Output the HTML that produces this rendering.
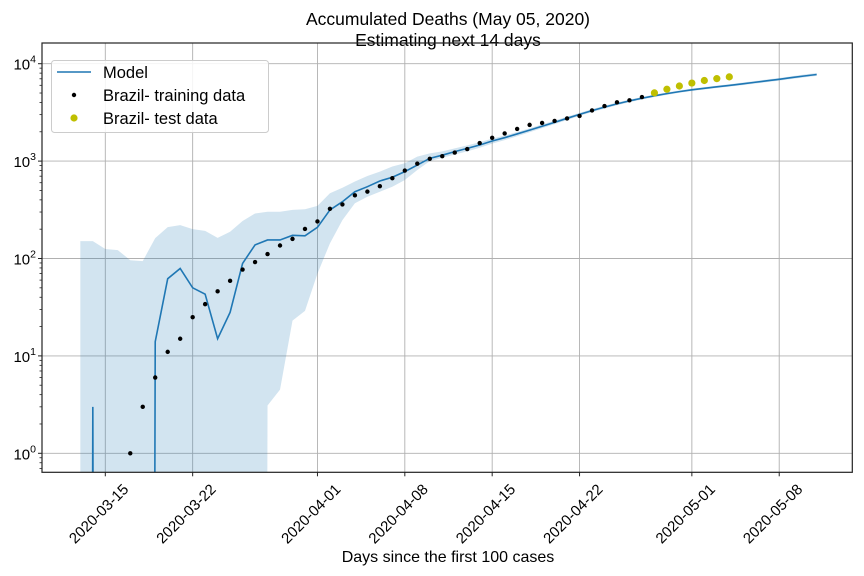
<!DOCTYPE html>
<html><head><meta charset="utf-8"><style>
html,body{margin:0;padding:0;background:#fff;overflow:hidden;}
svg{display:block;font-family:"Liberation Sans","DejaVu Sans",sans-serif;}
</style></head><body>
<svg id="chart" width="864" height="576" viewBox="0 0 864 576">
  <defs><clipPath id="plotclip"><rect x="42" y="43" width="810.3" height="429.3"/></clipPath></defs>
  <text x="448" y="25" text-anchor="middle" font-size="17.5">Accumulated Deaths (May 05, 2020)</text>
  <text x="448" y="46" text-anchor="middle" font-size="17.5">Estimating next 14 days</text>
  <g id="grid"></g>
  <g id="band" clip-path="url(#plotclip)"></g>
  <g id="model" clip-path="url(#plotclip)"></g>
  <g id="points" clip-path="url(#plotclip)"></g>
  <rect x="42" y="43" width="810.3" height="429.3" fill="none" stroke="#222" stroke-width="1.2"/>
  <g id="axes"></g>
  <text x="448" y="562" text-anchor="middle" font-size="16">Days since the first 100 cases</text>
  <g>
    <rect x="51.5" y="60.5" width="217" height="72" rx="3" fill="#fff" fill-opacity="0.85" stroke="#ccc"/>
    <line x1="57" y1="72" x2="91" y2="72" stroke="#1f77b4" stroke-width="1.6"/>
    <text x="103" y="78" font-size="16.5">Model</text>
    <circle cx="74" cy="95" r="2.2" fill="#000"/>
    <text x="103" y="101" font-size="16.5">Brazil- training data</text>
    <circle cx="74" cy="118" r="3.6" fill="#bfbf00"/>
    <text x="103" y="124" font-size="16.5">Brazil- test data</text>
  </g>
</svg>
<script>
// ---- data (day 0 = 2020-03-15) ----
const trainDays = [2,3,4,5,6,7,8,9,10,11,12,13,14,15,16,17,18,19,20,21,22,23,24,25,26,27,28,29,30,31,32,33,34,35,36,37,38,39,40,41,42,43];
const trainDeaths = [1,3,6,11,15,25,34,46,59,77,92,111,136,159,201,240,324,359,445,486,553,667,800,941,1056,1124,1223,1328,1532,1736,1924,2141,2354,2462,2587,2741,2906,3313,3670,4016,4205,4543];
const testDays = [44,45,46,47,48,49,50];
const testDeaths = [5017,5466,5901,6329,6724,7025,7321];
const modelDays = [-2,-1,0,1,2,3,4,5,6,7,8,9,10,11,12,13,14,15,16,17,18,19,20,21,22,23,24,25,26,27,28,29,30,31,32,33,34,35,36,37,38,39,40,41,42,43,44,45,46,47,48,49,50,51,52,53,54,55,56,57];
const modelMid = [0,3,0,0,0,0,14,62,79,50,43,15,28,89,138,155,155,173,171,209,315,383,485,546,625,682,780,910,1067,1150,1250,1350,1463,1608,1740,1900,2080,2280,2500,2750,3020,3300,3580,3870,4150,4420,4680,4930,5170,5390,5590,5790,5980,6200,6430,6670,6920,7200,7480,7750];
const bandUpper = [151,151,125,122,96,94,162,210,220,200,192,163,188,243,290,302,302,316,320,347,467,533,617,703,780,880,950,1110,1200,1260,1350,1450,1560,1700,1830,1990,2170,2380,2600,2860,3130,3420,3700,4000,4280,4550,4810,5070,5310,5540,5750,5960,6160,6390,6630,6880,7140,7440,7740,8020];
const bandLower = [0,0,0,0,0,0,0,0,0,0,0,0,0,0,0,3.1,4.5,23,29,70,143,248,369,431,485,546,640,810,1000,1080,1170,1260,1370,1510,1640,1800,1980,2180,2400,2640,2910,3180,3460,3740,4020,4290,4550,4790,5030,5240,5440,5630,5810,6010,6230,6470,6710,6970,7230,7490];
const xTickDays = [0,7,17,24,31,38,47,54];
const xTickLabels = ["2020-03-15","2020-03-22","2020-04-01","2020-04-08","2020-04-15","2020-04-22","2020-05-01","2020-05-08"];
const yTickExps = [0,1,2,3,4];

const NS="http://www.w3.org/2000/svg";
const X0=105.3, DX=12.48, Y0=453.3, DEC=97.4, LEFT=42, BOTTOM=472.3, RIGHT=852.3, TOP=43;
function xs(d){return X0+d*DX;}
function ys(v){return v<=0?5000:Y0-DEC*Math.log10(v);}
function mk(tag,attrs,parent){const e=document.createElementNS(NS,tag);for(const k in attrs)e.setAttribute(k,attrs[k]);parent.appendChild(e);return e;}

const grid=document.getElementById('grid'), axes=document.getElementById('axes');
xTickDays.forEach((d,i)=>{
  const x=xs(d);
  const g=mk('line',{x1:x,x2:x,y1:TOP,y2:BOTTOM,stroke:'#b0b0b0','stroke-width':0.9},grid);
  
  
  const t=mk('line',{x1:x,x2:x,y1:BOTTOM,y2:BOTTOM+4,stroke:'#222'},axes);
  
  
  const cx=x-3, cy=BOTTOM+45;
  const lbl=mk('text',{x:cx,y:cy,'font-size':15,'text-anchor':'middle',transform:`rotate(-45 ${cx} ${cy})`},axes);
  lbl.textContent=xTickLabels[i];
  
  
});
yTickExps.forEach(e=>{
  const y=ys(Math.pow(10,e));
  const g=mk('line',{x1:LEFT,x2:RIGHT,y1:y,y2:y,stroke:'#b0b0b0','stroke-width':0.9},grid);
  
  
  const t=mk('line',{x1:LEFT-4,x2:LEFT,y1:y,y2:y,stroke:'#222'},axes);
  
  
  const lbl=mk('text',{x:LEFT-6,y:y+6,'font-size':15,'text-anchor':'end'},axes);
  lbl.innerHTML='10<tspan dy="-7" font-size="10.5">'+e+'</tspan>';
  
  
});
for(let e=-1;e<=4;e++){for(let m=2;m<=9;m++){const v=m*Math.pow(10,e);const y=ys(v);if(y<TOP||y>BOTTOM)continue;
  const t=mk('line',{x1:LEFT-2.5,x2:LEFT,y1:y,y2:y,stroke:'#222','stroke-width':0.8},axes);
  
  }}

// band
let pts=modelDays.map((d,i)=>xs(d)+','+ys(bandUpper[i]));
for(let i=modelDays.length-1;i>=0;i--)pts.push(xs(modelDays[i])+','+ys(bandLower[i]));
const band=mk('polygon',{points:pts.join(' '),fill:'#1f77b4','fill-opacity':0.2,stroke:'none'},document.getElementById('band'));



const line=mk('polyline',{points:modelDays.map((d,i)=>xs(d)+','+ys(modelMid[i])).join(' '),fill:'none',stroke:'#1f77b4','stroke-width':1.6},document.getElementById('model'));



const pg=document.getElementById('points');
trainDays.forEach((d,i)=>{const c=mk('circle',{cx:xs(d),cy:ys(trainDeaths[i]),r:2.2,fill:'#000'},pg);
  
  });
testDays.forEach((d,i)=>{const c=mk('circle',{cx:xs(d),cy:ys(testDeaths[i]),r:3.6,fill:'#bfbf00'},pg);
  
  });
</script>
</body></html>
